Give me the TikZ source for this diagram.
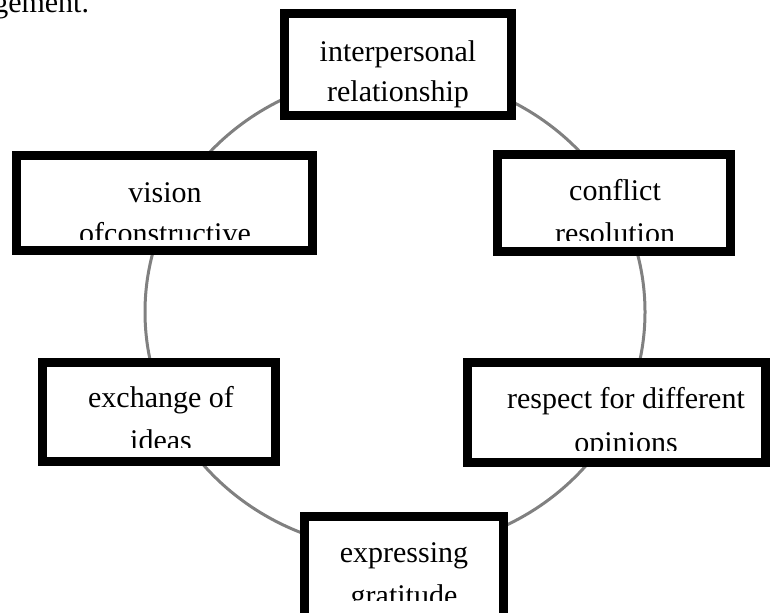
\documentclass[tikz,border=0pt]{standalone}
\usepackage{fontspec}
\setmainfont{Liberation Serif}
\begin{document}
\begin{tikzpicture}[x=0.75pt,y=-0.75pt,
  box/.style={draw=black,fill=white,line width=6.75pt,inner sep=0pt,rectangle},
  lbl/.style={anchor=base,inner sep=0pt,font=\fontsize{22.5pt}{30pt}\selectfont},
  ring/.style={draw=black!50,line width=2.25pt}]
\useasboundingbox (0,0) rectangle (770,613);
% ring behind the boxes
\draw[ring] (395,312) ellipse [x radius=187.5pt, y radius=178.5pt];
% cropped caption fragment
\node[lbl,anchor=base west] (cap) at (-7,13) {gement.};
% boxes
\node[box,minimum width=170.25pt,minimum height=76.5pt] (b1) at (398,64.5) {};
\node[box,minimum width=222pt,minimum height=71.25pt] (b2) at (164.5,203) {};
\node[box,minimum width=174.75pt,minimum height=72.75pt] (b3) at (614,203) {};
\node[box,minimum width=174.75pt,minimum height=74.25pt] (b4) at (159,412) {};
\node[box,minimum width=223.5pt,minimum height=75pt] (b5) at (616.5,412.5) {};
\node[box,minimum width=149.25pt,minimum height=89.25pt] (b6) at (404,576) {};
% labels (second lines clipped as in the reference)
\node[lbl] (t1a) at (398,62) {interpersonal};
\node[lbl] (t1b) at (398,102) {relationship};
\node[lbl] (t2a) at (165,202) {vision};
\begin{scope}\clip (20,160) rectangle (309,239);
\node[lbl] (t2b) at (165,243) {ofconstructive};
\end{scope}
\node[lbl] (t3a) at (615,200) {conflict};
\begin{scope}\clip (500,160) rectangle (727,240);
\node[lbl] (t3b) at (615,243) {resolution};
\end{scope}
\node[lbl] (t4a) at (161,407) {exchange of};
\begin{scope}\clip (46,366) rectangle (272,447);
\node[lbl] (t4b) at (161,450) {ideas};
\end{scope}
\node[lbl] (t5a) at (626,408) {respect for different};
\begin{scope}\clip (470,366) rectangle (762,450);
\node[lbl] (t5b) at (626,452) {opinions};
\end{scope}
\node[lbl] (t6a) at (404,562) {expressing};
\begin{scope}\clip (308,520) rectangle (500,600);
\node[lbl] (t6b) at (404,605) {gratitude};
\end{scope}
\end{tikzpicture}
\end{document}
